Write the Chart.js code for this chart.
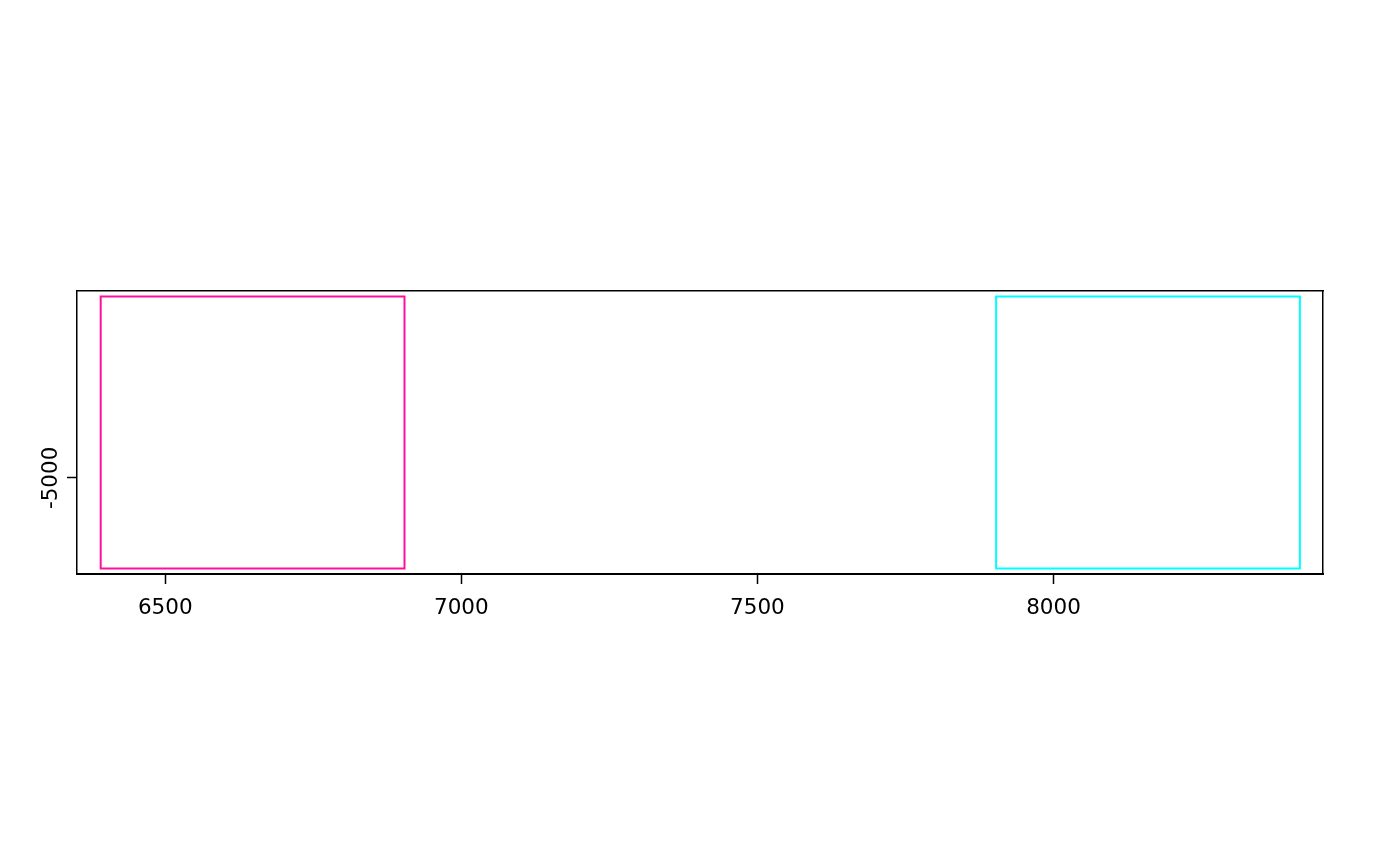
<!DOCTYPE html>
<html>
<head>
<meta charset="utf-8">
<script src="https://cdn.jsdelivr.net/npm/chart.js@4"></script>
<style>
  html, body { margin: 0; padding: 0; background: #ffffff; }
  #wrap { width: 1400px; height: 866px; }
</style>
</head>
<body>
<div id="wrap"><canvas id="c" width="1400" height="866"></canvas></div>
<script>
// ---- data ----
const rectNames = ['A', 'B'];
const rectColors = ['#ff0fa0', '#00ffff'];
const rectX0 = [6391, 7903];
const rectX1 = [6904, 8416];
const rectY0 = [-7500, -7500];
const rectY1 = [0, 0];
const xTicks = [6500, 7000, 7500, 8000];
const yTicks = [-5000];
const xRange = [6351, 8455];
const yRange = [-7650, 150];

const datasets = rectNames.map((name, i) => ({
  label: name,
  data: [
    { x: rectX0[i], y: rectY0[i] },
    { x: rectX1[i], y: rectY0[i] },
    { x: rectX1[i], y: rectY1[i] },
    { x: rectX0[i], y: rectY1[i] },
    { x: rectX0[i], y: rectY0[i] }
  ],
  showLine: true,
  fill: false,
  borderColor: rectColors[i],
  backgroundColor: rectColors[i],
  borderWidth: 2,
  borderJoinStyle: 'miter',
  borderCapStyle: 'square',
  pointRadius: 0,
  tension: 0
}));

const FONT = { family: 'DejaVu Sans', size: 21.5 };

new Chart(document.getElementById('c'), {
  type: 'scatter',
  data: { datasets },
  options: {
    responsive: false,
    devicePixelRatio: 1,
    animation: false,
    layout: { padding: { top: 291, right: 77, bottom: 0, left: 0 } },
    plugins: { legend: { display: false }, tooltip: { enabled: false } },
    scales: {
      x: {
        type: 'linear', position: 'bottom',
        min: xRange[0], max: xRange[1],
        afterBuildTicks: s => { s.ticks = xTicks.map(v => ({ value: v })); },
        afterFit: s => { s.height = 292; },
        ticks: { color: '#000', font: FONT, padding: 12, maxRotation: 0, minRotation: 0,
                 callback: v => String(v) },
        grid: { display: true, drawOnChartArea: false, drawTicks: true, tickLength: 10,
                tickColor: '#000', tickWidth: 1.5 },
        border: { display: true, color: '#000', width: 2 }
      },
      x2: {
        type: 'linear', position: 'top',
        min: xRange[0], max: xRange[1],
        afterFit: s => { s.height = 0; },
        ticks: { display: false },
        grid: { display: false, drawTicks: false },
        border: { display: true, color: '#000', width: 1.5 }
      },
      y: {
        type: 'linear', position: 'left',
        min: yRange[0], max: yRange[1],
        afterBuildTicks: s => { s.ticks = yTicks.map(v => ({ value: v })); },
        afterFit: s => { s.width = 77; },
        ticks: { color: '#000', font: FONT, minRotation: 90, maxRotation: 90,
                 crossAlign: 'center', padding: -16, callback: v => String(v) },
        grid: { display: true, drawOnChartArea: false, drawTicks: true, tickLength: 10,
                tickColor: '#000', tickWidth: 1.5 },
        border: { display: true, color: '#000', width: 1.5 }
      },
      y2: {
        type: 'linear', position: 'right',
        min: yRange[0], max: yRange[1],
        afterFit: s => { s.width = 0; },
        ticks: { display: false },
        grid: { display: false, drawTicks: false },
        border: { display: true, color: '#000', width: 1.5 }
      }
    }
  }
});
</script>
</body>
</html>
